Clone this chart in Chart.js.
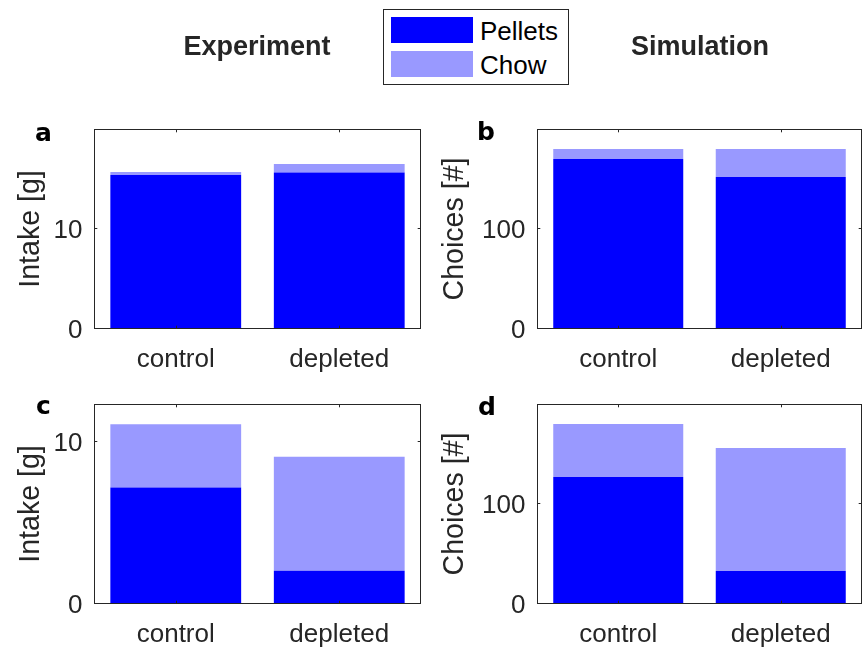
<!DOCTYPE html>
<html>
<head>
<meta charset="utf-8">
<script src="https://cdn.jsdelivr.net/npm/chart.js@4.4.0/dist/chart.umd.min.js"></script>
<style>
    body { margin: 0; background: #fff; }
    #page { position: relative; width: 862px; height: 647px; overflow: hidden; font-family: "Liberation Sans", Arial, sans-serif; }
    #page canvas { position: absolute; left: 0; top: 0; }
    .col-title { position: absolute; width: 240px; text-align: center; font-size: 27px; line-height: 27px; font-weight: bold; color: #262626; }
    .letter { position: absolute; font-family: "DejaVu Sans", sans-serif; font-size: 25px; line-height: 25px; font-weight: bold; color: #000; }
    #legend { position: absolute; left: 383px; top: 9px; width: 186px; height: 76px; box-sizing: border-box; border: 1px solid #262626; background: #fff; z-index: 5; }
    #legend .sw { position: absolute; left: 7px; width: 82px; height: 26px; }
    #legend .lbl { position: absolute; left: 96px; font-size: 26px; line-height: 26px; color: #000; }
</style>
</head>
<body>
<div id="page">
    <canvas id="chartA" width="862" height="647"></canvas>
    <canvas id="chartB" width="862" height="647"></canvas>
    <canvas id="chartC" width="862" height="647"></canvas>
    <canvas id="chartD" width="862" height="647"></canvas>

    <div class="col-title" style="left:137px; top:33px;">Experiment</div>
    <div class="col-title" style="left:580px; top:33px;">Simulation</div>

    <div id="legend">
        <div class="sw" style="top:7px; background:#0000ff;"></div>
        <div class="lbl" style="top:8px;">Pellets</div>
        <div class="sw" style="top:41px; background:#9999ff;"></div>
        <div class="lbl" style="top:42px;">Chow</div>
    </div>

    <div class="letter" style="left:35px; top:120px;">a</div>
    <div class="letter" style="left:477px; top:119px;">b</div>
    <div class="letter" style="left:36px; top:393px;">c</div>
    <div class="letter" style="left:478px; top:394px;">d</div>
</div>

<script>
// data
var categories = ['control', 'depleted'];

// a: experiment, intake
var pelletsA = [15.4, 15.65];
var chowA = [0.3, 0.85];
var yMaxA = 20;
var yTicksA = [0, 10];

// b: simulation, choices
var pelletsB = [170, 152];
var chowB = [10, 28];
var yMaxB = 200;
var yTicksB = [0, 100];

// c: experiment, intake
var pelletsC = [7.2, 2.05];
var chowC = [3.9, 7.05];
var yMaxC = 12.35;
var yTicksC = [0, 10];

// d: simulation, choices
var pelletsD = [127, 33];
var chowD = [53, 123];
var yMaxD = 200;
var yTicksD = [0, 100];

var PELLET_COLOR = '#0000ff';
var CHOW_COLOR = '#9999ff';
var AXIS_COLOR = '#262626';
var FONT_FAMILY = '"Liberation Sans", Arial, sans-serif';
var TICK_SIZE = 26;
var LABEL_SIZE = 28.6;   // matlab label = 1.1 x axis font
var PAGE_W = 862, PAGE_H = 647;

// matlab style box with inward ticks, drawn over the bars
var boxPlugin = {
    id: 'matlabBox',
    afterDatasetsDraw: function (chart) {
        var a = chart.chartArea;
        var ctx = chart.ctx;
        var xs = chart.scales.x, ys = chart.scales.y;
        var len = 3.3;
        var l = Math.round(a.left), r = Math.round(a.right), t = Math.round(a.top), b = Math.round(a.bottom);
        ctx.save();
        ctx.strokeStyle = AXIS_COLOR;
        ctx.lineWidth = 1;
        ctx.strokeRect(l + 0.5, t + 0.5, r - l - 1, b - t - 1);
        ctx.beginPath();
        ys.ticks.forEach(function (tk) {
            var y = Math.round(ys.getPixelForValue(tk.value)) - 0.5;
            ctx.moveTo(l, y); ctx.lineTo(l + len, y);
            ctx.moveTo(r, y); ctx.lineTo(r - len, y);
        });
        xs.ticks.forEach(function (tk, i) {
            var x = Math.round(xs.getPixelForTick(i)) + 0.5;
            ctx.moveTo(x, b); ctx.lineTo(x, b - len);
            ctx.moveTo(x, t); ctx.lineTo(x, t + len);
        });
        ctx.stroke();
        ctx.restore();
    }
};

function makePanel(id, area, titleX, yTitle, pellets, chow, yMax, yTicks) {
    var xHeight = 60;
    var titlePad = 13.4;
    var padLeft = titleX - titlePad - LABEL_SIZE * 1.2 / 2;
    var yWidth = area.left - padLeft;
    var ctx = document.getElementById(id).getContext('2d');
    return new Chart(ctx, {
        type: 'bar',
        data: {
            labels: categories,
            datasets: [
                { label: 'Pellets', data: pellets, backgroundColor: PELLET_COLOR, borderWidth: 0 },
                { label: 'Chow', data: chow, backgroundColor: CHOW_COLOR, borderWidth: 0 }
            ]
        },
        options: {
            responsive: false,
            animation: false,
            events: [],
            layout: {
                padding: {
                    left: padLeft,
                    top: area.top,
                    right: PAGE_W - area.right,
                    bottom: PAGE_H - area.bottom - xHeight
                }
            },
            plugins: {
                legend: { display: false },
                tooltip: { enabled: false }
            },
            datasets: {
                bar: { barPercentage: 0.8, categoryPercentage: 1.0 }
            },
            scales: {
                x: {
                    stacked: true,
                    offset: true,
                    grid: { display: false, drawTicks: false },
                    border: { display: false },
                    ticks: {
                        color: AXIS_COLOR,
                        padding: 15,
                        maxRotation: 0,
                        font: { family: FONT_FAMILY, size: TICK_SIZE }
                    },
                    afterFit: function (scale) { scale.height = xHeight; }
                },
                y: {
                    stacked: true,
                    min: 0,
                    max: yMax,
                    grid: { display: false, drawTicks: false },
                    border: { display: false },
                    afterBuildTicks: function (scale) {
                        scale.ticks = yTicks.map(function (v) { return { value: v }; });
                    },
                    ticks: {
                        color: AXIS_COLOR,
                        padding: 11.5,
                        labelOffset: 2,
                        font: { family: FONT_FAMILY, size: TICK_SIZE }
                    },
                    title: {
                        display: true,
                        text: yTitle,
                        color: AXIS_COLOR,
                        padding: { top: titlePad, bottom: 0 },
                        font: { family: FONT_FAMILY, size: LABEL_SIZE, lineHeight: 1.2 }
                    },
                    afterFit: function (scale) { scale.width = yWidth; }
                }
            }
        },
        plugins: [boxPlugin]
    });
}

makePanel('chartA', { left: 94, right: 421, top: 129, bottom: 329 }, 31, 'Intake [g]', pelletsA, chowA, yMaxA, yTicksA);
makePanel('chartB', { left: 537, right: 862, top: 129, bottom: 329 }, 455.5, 'Choices [#]', pelletsB, chowB, yMaxB, yTicksB);
makePanel('chartC', { left: 94, right: 421, top: 404, bottom: 604 }, 31, 'Intake [g]', pelletsC, chowC, yMaxC, yTicksC);
makePanel('chartD', { left: 537, right: 862, top: 404, bottom: 604 }, 455.5, 'Choices [#]', pelletsD, chowD, yMaxD, yTicksD);
</script>
</body>
</html>
